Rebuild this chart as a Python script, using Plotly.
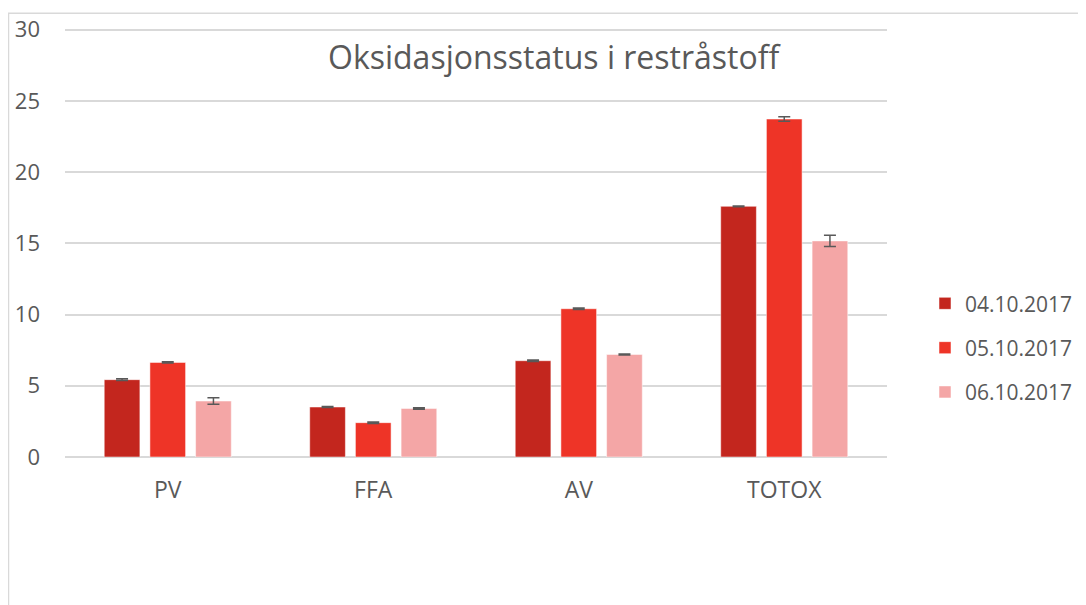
import plotly.graph_objects as go

categories = ["PV", "FFA", "AV", "TOTOX"]
series_names = ["04.10.2017", "05.10.2017", "06.10.2017"]
values_0410 = [5.43, 3.51, 6.76, 17.60]
values_0510 = [6.64, 2.41, 10.41, 23.73]
values_0610 = [3.93, 3.41, 7.20, 15.17]
err_0410 = [0.06, 0.04, 0.05, 0.03]
err_0510 = [0.04, 0.05, 0.05, 0.16]
err_0610 = [0.23, 0.05, 0.04, 0.40]
y_ticks = [0, 5, 10, 15, 20, 25, 30]
colors = ["#C3261E", "#EE3427", "#F4A6A6"]

OFF = 8  # default page body margin
W, H = 1086 - OFF, 605 - OFF
YMAX = 30.4
unit = (457.3 - 30) / 30.0
L, R = 65 - OFF, 887 - OFF
B = 457.3 - OFF
T = B - YMAX * unit
pw, ph = R - L, B - T


def px_x(x):  # page pixel -> paper
    return (x - OFF - L) / pw


def px_y(y):
    return (B - (y - OFF)) / ph


fig = go.Figure()
for i, (name, vals, errs) in enumerate(zip(series_names,
                                           [values_0410, values_0510, values_0610],
                                           [err_0410, err_0510, err_0610])):
    fig.add_trace(go.Bar(
        x=categories, y=vals, name=name, legendgroup=name,
        marker=dict(color=colors[i], line=dict(color="rgba(255,255,255,0.5)", width=1)),
        error_y=dict(type="data", array=errs, visible=True, color="#595959",
                     thickness=1.5, width=6),
    ))

font_family = "Open Sans"
fig.update_layout(
    width=W, height=H,
    margin=dict(l=L, r=W - R, t=T, b=H - B, autoexpand=False),
    paper_bgcolor="white", plot_bgcolor="white",
    barmode="group", bargap=0.333, bargroupgap=0.219,
    font=dict(family=font_family, color="#595959", size=21),
    showlegend=True,
    legend=dict(x=px_x(925), xanchor="left", y=px_y(348), yanchor="middle",
                font=dict(size=21, color="#595959"), tracegroupgap=14,
                bgcolor="rgba(0,0,0,0)"),
    annotations=[dict(text="Oksidasjonsstatus i restråstoff", xref="paper", yref="paper",
                      x=px_x(554), y=px_y(57), xanchor="center", yanchor="middle",
                      showarrow=False, font=dict(size=32, color="#595959", family=font_family))],
    shapes=[dict(type="rect", xref="paper", yref="paper",
                 x0=px_x(8.5), x1=px_x(1100), y0=px_y(13.5), y1=px_y(620),
                 line=dict(color="#D9D9D9", width=1.5), fillcolor="rgba(0,0,0,0)", layer="below")],
)
fig.update_yaxes(range=[0, YMAX], tickvals=y_ticks,
                 gridcolor="#D9D9D9", gridwidth=1.5,
                 zeroline=True, zerolinecolor="#D9D9D9", zerolinewidth=1.5,
                 showline=False, ticks="", ticklabelstandoff=24,
                 tickfont=dict(size=22, color="#595959"))
fig.update_xaxes(showline=False, ticks="", ticklabelstandoff=17, showgrid=False,
                 tickfont=dict(size=23, color="#595959"))

fig.write_html("out.html")
